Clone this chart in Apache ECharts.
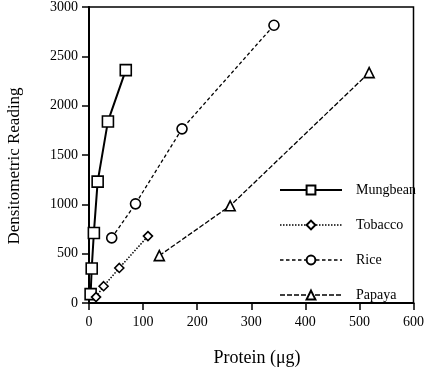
<!DOCTYPE html>
<html>
<head>
<meta charset="utf-8">
<script src="https://cdn.jsdelivr.net/npm/echarts@6/dist/echarts.min.js"></script>
<style>html,body{margin:0;padding:0;background:#fff;}#c{width:427px;height:387px;}</style>
</head>
<body>
<div id="c"></div>
<script>
var seriesNames = ['Mungbean', 'Tobacco', 'Rice', 'Papaya'];
var mungbean = [[3, 90], [5, 350], [9, 710], [16, 1230], [35, 1840], [68, 2360]];
var tobacco = [[13, 60], [27, 170], [56, 355], [109, 678]];
var rice = [[42, 660], [86, 1005], [172, 1765], [342, 2815]];
var papaya = [[130, 480], [261, 985], [518, 2335]];
var xTicks = [0, 100, 200, 300, 400, 500, 600];
var yTicks = [0, 500, 1000, 1500, 2000, 2500, 3000];
var xTitle = 'Protein (\u03bcg)';
var yTitle = 'Densitometric Reading';

var FONT = '"Liberation Serif", "DejaVu Serif", serif';
var chart = echarts.init(document.getElementById('c'));

var dashes = { Mungbean: 'solid', Tobacco: [1.5, 1.5], Rice: [3.5, 2.5], Papaya: [5, 2] };
var widths = { Mungbean: 2, Tobacco: 1.5, Rice: 1.3, Papaya: 1.3 };

function mk(name, data, symbol, size) {
  return {
    name: name, type: 'line', data: data, symbol: symbol, symbolSize: size,
    showSymbol: true, animation: false,
    lineStyle: { color: '#000', width: widths[name], type: dashes[name] },
    itemStyle: { color: '#fff', borderColor: '#000', borderWidth: 1.6 },
    z: 3
  };
}

chart.setOption({
  backgroundColor: '#fff',
  animation: false,
  grid: { left: 89, right: 10, top: 6, bottom: 84, show: true, borderColor: '#000', borderWidth: 1.5, backgroundColor: 'transparent' },
  xAxis: {
    type: 'value', min: xTicks[0], max: xTicks[xTicks.length - 1], interval: 100,
    axisLine: { show: true, lineStyle: { color: '#000', width: 2 } },
    axisTick: { show: true, inside: false, length: 7, lineStyle: { color: '#000', width: 1.5 } },
    axisLabel: { color: '#000', fontFamily: FONT, fontSize: 14, margin: 12, formatter: function (v) { return String(v); } },
    splitLine: { show: false }
  },
  yAxis: {
    type: 'value', min: yTicks[0], max: yTicks[yTicks.length - 1], interval: 500,
    axisLine: { show: true, lineStyle: { color: '#000', width: 2 } },
    axisTick: { show: true, inside: false, length: 7, lineStyle: { color: '#000', width: 1.5 } },
    axisLabel: { color: '#000', fontFamily: FONT, fontSize: 14, margin: 11, formatter: function (v) { return String(v); } },
    splitLine: { show: false }
  },
  legend: {
    orient: 'vertical', left: 274, top: 178,
    itemWidth: 62, itemHeight: 11, itemGap: 21,
    data: seriesNames.map(function (n) {
      return { name: n, lineStyle: { color: '#000', width: widths[n], type: dashes[n] } };
    }),
    textStyle: { color: '#000', fontFamily: FONT, fontSize: 14, padding: [0, 0, 0, 9] },
    selectedMode: false
  },
  graphic: [
    { type: 'text', x: 257, y: 349, style: { text: xTitle, font: '18px ' + FONT, fill: '#000', align: 'center', verticalAlign: 'top' } },
    { type: 'text', x: 6, y: 166, rotation: Math.PI / 2, style: { text: yTitle, font: '17px ' + FONT, fill: '#000', align: 'center', verticalAlign: 'top' } }
  ],
  series: [
    mk(seriesNames[0], mungbean, 'rect', 11),
    mk(seriesNames[1], tobacco, 'diamond', 9),
    mk(seriesNames[2], rice, 'circle', 10),
    mk(seriesNames[3], papaya, 'triangle', 10)
  ]
});
</script>
</body>
</html>
